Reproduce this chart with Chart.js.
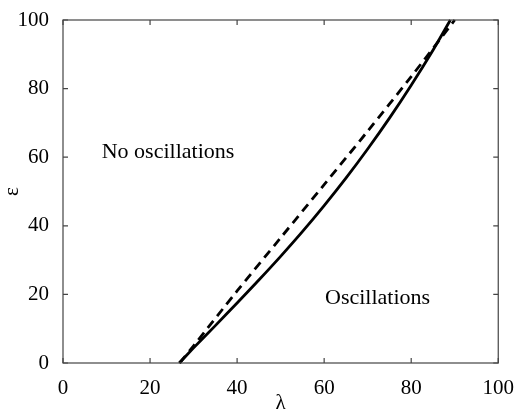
<!DOCTYPE html>
<html>
<head>
<meta charset="utf-8">
<script src="https://cdn.jsdelivr.net/npm/chart.js@4.4.1/dist/chart.umd.min.js"></script>
<style>
  html, body { margin: 0; padding: 0; background: #fff; }
  #wrap { width: 519px; height: 412px; }
</style>
</head>
<body>
<div id="wrap"><canvas id="chart"></canvas></div>
<script>
// boundary curves, lambda vs epsilon
const solidLambda  = [26.7, 30, 35, 40, 45, 50, 55, 60, 65, 70, 75, 80, 85, 89]
const solidEps     = [0, 4.4, 10.9, 17.5, 24.2, 31.1, 38.3, 45.9, 53.9, 62.4, 71.4, 81.0, 91.2, 100]
const dashedLambda = [26.8, 30, 40, 50, 60, 70, 80, 90]
const dashedEps    = [0, 5, 21, 36.5, 52, 67.6, 83.5, 100]

const TICKS = [0, 20, 40, 60, 80, 100]

const regionLabels = [
  { text: 'No oscillations', x: 8.9, y: 61.5 },
  { text: 'Oscillations',    x: 60.2, y: 19 },
]

const FONT = '"Liberation Serif", "Times New Roman", serif'

function pts(xs, ys) {
  return xs.map((x, i) => ({ x, y: ys[i] }))
}

// box around the plot with inward tick marks + the two region labels
const frame = {
  id: 'frame',
  afterDraw(chart) {
    const { ctx, chartArea: a, scales: { x, y } } = chart
    ctx.save()
    ctx.strokeStyle = '#444'
    ctx.lineWidth = 1.2
    ctx.strokeRect(a.left, a.top, a.right - a.left, a.bottom - a.top)
    ctx.beginPath()
    TICKS.forEach(t => {
      const px = x.getPixelForValue(t)
      ctx.moveTo(px, a.bottom); ctx.lineTo(px, a.bottom - 5)
      ctx.moveTo(px, a.top);    ctx.lineTo(px, a.top + 5)
      const py = y.getPixelForValue(t)
      ctx.moveTo(a.left, py);  ctx.lineTo(a.left + 5, py)
      ctx.moveTo(a.right, py); ctx.lineTo(a.right - 5, py)
    })
    ctx.stroke()

    ctx.fillStyle = '#000'
    ctx.font = '22px ' + FONT
    ctx.textAlign = 'left'
    ctx.textBaseline = 'middle'
    regionLabels.forEach(l => {
      ctx.fillText(l.text, x.getPixelForValue(l.x), y.getPixelForValue(l.y))
    })
    ctx.restore()
  }
}

new Chart(document.getElementById('chart'), {
  type: 'line',
  data: {
    datasets: [
      {
        data: pts(solidLambda, solidEps),
        borderColor: '#000', borderWidth: 2.8,
        pointRadius: 0, tension: 0.3
      },
      {
        data: pts(dashedLambda, dashedEps),
        borderColor: '#000', borderWidth: 2.8, borderDash: [9, 6],
        pointRadius: 0, tension: 0.3
      }
    ]
  },
  options: {
    responsive: true,
    maintainAspectRatio: false,
    animation: false,
    clip: false,
    layout: { padding: { left: 0, right: 18, top: 20, bottom: 0 } },
    plugins: { legend: { display: false }, tooltip: { enabled: false } },
    scales: {
      x: {
        type: 'linear', min: 0, max: 100,
        grid: { display: false }, border: { display: false },
        ticks: { stepSize: 20, color: '#000', padding: 5, font: { family: FONT, size: 21 } },
        title: { display: true, text: 'λ', color: '#000', padding: { top: 0, bottom: -4 }, font: { family: FONT, size: 21 } },
        afterFit: s => { s.height = 49 }
      },
      y: {
        type: 'linear', min: 0, max: 100,
        grid: { display: false }, border: { display: false },
        ticks: { stepSize: 20, color: '#000', padding: 6, font: { family: FONT, size: 21 } },
        title: { display: true, text: 'ε', color: '#000', padding: 0, font: { family: FONT, size: 21 } },
        afterFit: s => { s.width = 63 }
      }
    }
  },
  plugins: [frame]
})
</script>
</body>
</html>
